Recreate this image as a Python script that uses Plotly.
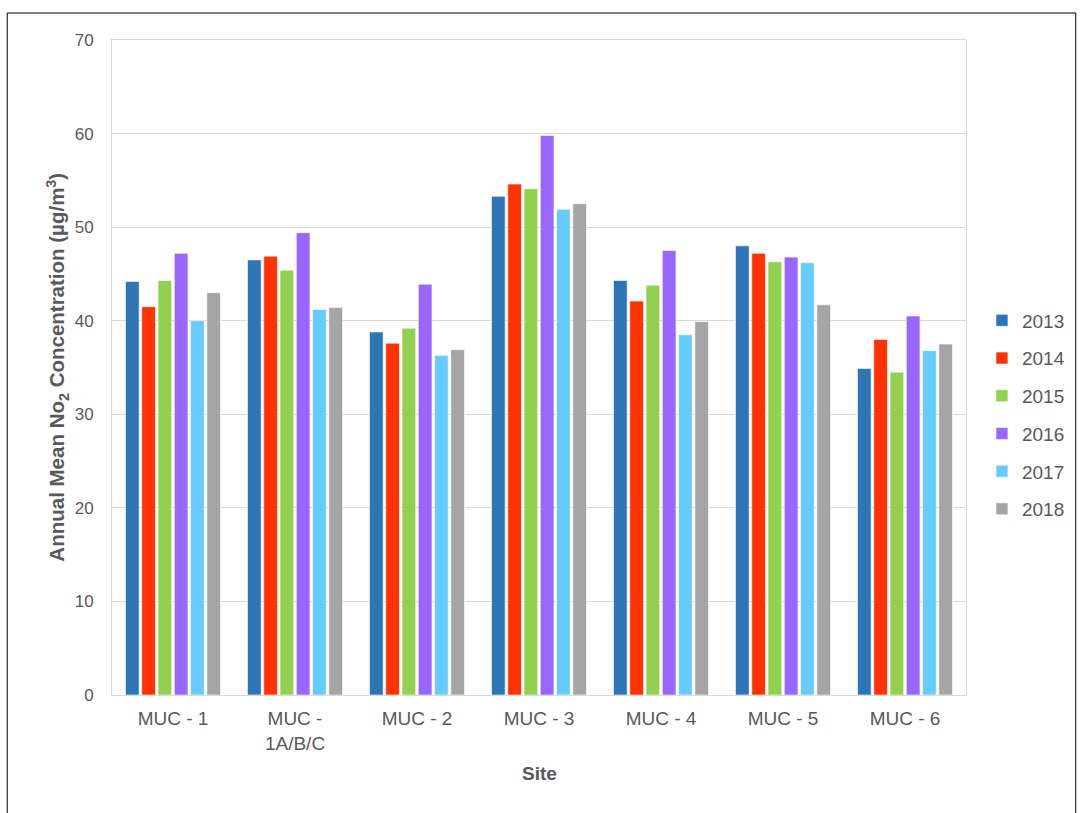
import plotly.graph_objects as go

sites = ["MUC - 1", "MUC -<br>1A/B/C", "MUC - 2", "MUC - 3", "MUC - 4", "MUC - 5", "MUC - 6"]
years = ["2013", "2014", "2015", "2016", "2017", "2018"]
v2013 = [44.2, 46.5, 38.8, 53.3, 44.3, 48.0, 34.9]
v2014 = [41.5, 46.9, 37.6, 54.6, 42.1, 47.2, 38.0]
v2015 = [44.3, 45.4, 39.2, 54.1, 43.8, 46.3, 34.5]
v2016 = [47.2, 49.4, 43.9, 59.8, 47.5, 46.8, 40.5]
v2017 = [40.0, 41.2, 36.3, 51.9, 38.5, 46.2, 36.8]
v2018 = [43.0, 41.4, 36.9, 52.5, 39.9, 41.7, 37.5]
series = [v2013, v2014, v2015, v2016, v2017, v2018]
colors = ["#2E75B6", "#FF3300", "#92D050", "#9966FF", "#66CCFF", "#A5A5A5"]

fig = go.Figure()
for yr, vals, c in zip(years, series, colors):
    fig.add_trace(go.Bar(
        x=sites, y=vals, name=yr, legendgroup=yr,
        marker=dict(color=c, line=dict(color="rgba(255,255,255,0.6)", width=1)),
    ))

W, H = 1082, 813
L, R, T, B = 112, 968, 40, 695

def px_x(p):
    return (p - L) / (R - L)

def px_y(p):
    return (B - p) / (B - T)

gray = "#595959"
fig.update_layout(
    width=W, height=H,
    margin=dict(l=L, r=W - R, t=T, b=H - B, pad=0),
    paper_bgcolor="white", plot_bgcolor="white",
    barmode="group", bargap=0.2, bargroupgap=0.16,
    font=dict(family="Liberation Sans, Arial, sans-serif", color=gray),
    showlegend=True,
    legend=dict(x=px_x(984), y=px_y(415), xanchor="left", yanchor="middle",
                font=dict(size=19, color=gray), tracegroupgap=10,
                itemwidth=30, bgcolor="rgba(0,0,0,0)", borderwidth=0),
    xaxis=dict(showline=True, linecolor="#D9D9D9", linewidth=1, mirror=True,
               ticks="", tickfont=dict(size=19, color=gray), showgrid=False,
               ticklabelstandoff=6),
    yaxis=dict(range=[0, 70], dtick=10, showline=True, linecolor="#D9D9D9",
               linewidth=1, mirror=True, gridcolor="#D9D9D9", gridwidth=1,
               ticks="", tickfont=dict(size=17, color=gray), zeroline=False,
               ticklabelstandoff=14),
    annotations=[
        dict(text="<b>Annual Mean No<sub>2</sub> Concentration (µg/m<sup>3</sup>)</b>",
             xref="paper", yref="paper", x=px_x(57), y=0.5, textangle=-90,
             showarrow=False, xanchor="center", yanchor="middle",
             font=dict(size=20.5, color=gray)),
        dict(text="<b>Site</b>", xref="paper", yref="paper", x=0.5, y=px_y(774),
             showarrow=False, xanchor="center", yanchor="middle",
             font=dict(size=19, color=gray)),
    ],
    shapes=[
        dict(type="rect", xref="paper", yref="paper",
             x0=px_x(7), x1=px_x(1078), y0=px_y(830), y1=px_y(13),
             line=dict(color="black", width=1), fillcolor="rgba(0,0,0,0)", layer="below"),
    ],
)

fig.write_html("out.html", config={"displayModeBar": False},
               post_script="document.body.style.margin='0';document.body.style.overflow='hidden';")
